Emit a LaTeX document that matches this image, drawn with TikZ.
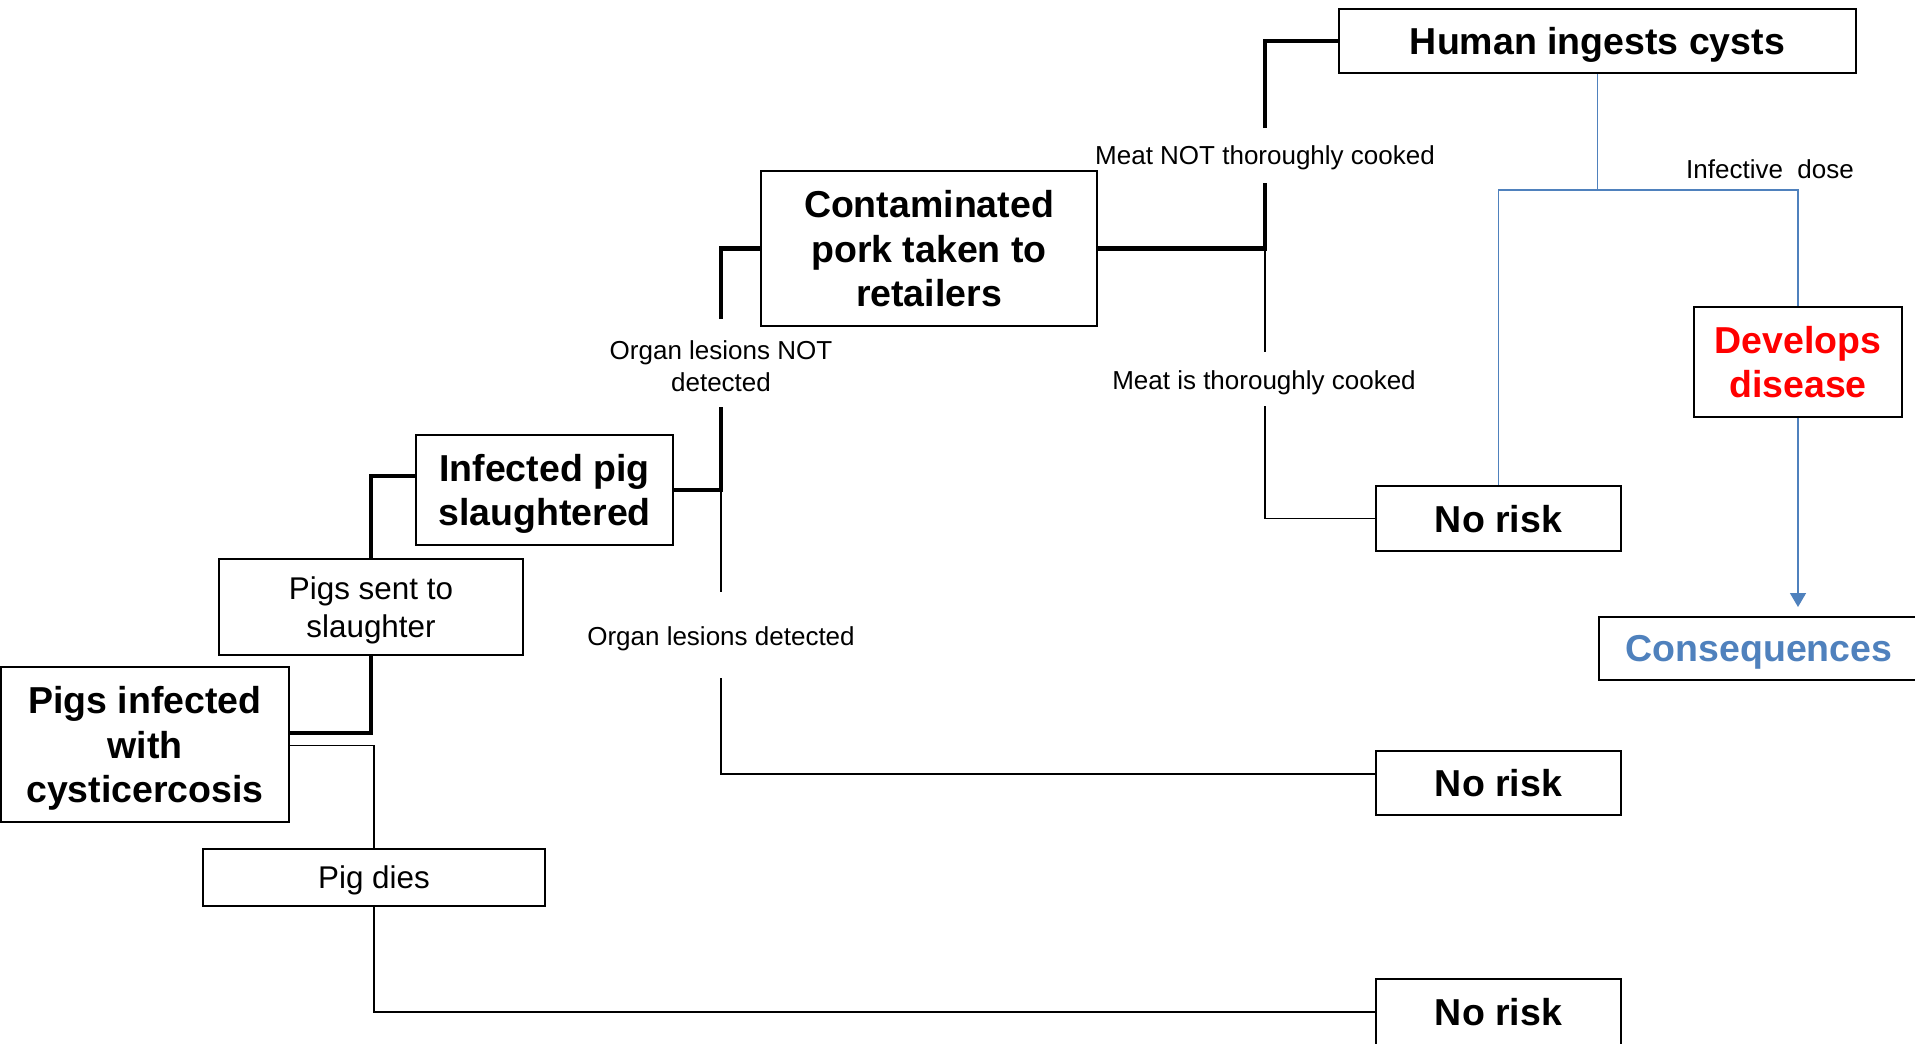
\documentclass[tikz,border=0pt]{standalone}
\usepackage{fontspec}
\setmainfont{Liberation Sans}
\usetikzlibrary{arrows.meta}
\definecolor{blueC}{RGB}{79,129,189}
\definecolor{redC}{RGB}{255,0,0}
\begin{document}
\begin{tikzpicture}[x=1pt,y=-1pt,
  box/.style={draw=black,line width=2.4pt,inner sep=0pt,align=center,text depth=0pt,font=\fontsize{37.5}{44.6}\selectfont\bfseries},
  tbox/.style={draw=black,line width=2.4pt,inner sep=0pt,align=center,text depth=0pt,font=\fontsize{31.4}{38}\selectfont},
  lbl/.style={inner sep=0pt,align=center,font=\fontsize{26}{31.7}\selectfont},
  heavy/.style={line width=4.6pt},
  light/.style={line width=1.8pt},
  blueline/.style={line width=1.6pt,draw=blueC}]
\useasboundingbox (0,0) rectangle (1915,1044);

% boxes
\node[box,minimum width=517pt,minimum height=64pt] (human) at (1597.5,41) {Human ingests cysts};
\node[box,minimum width=336pt,minimum height=155pt] (pork) at (929,248.5) {Contaminated\\pork taken to\\retailers};
\node[box,minimum width=257pt,minimum height=110pt] (sl) at (544.5,490) {Infected pig\\slaughtered};
\node[tbox,minimum width=304pt,minimum height=96pt] (sent) at (371,607) {Pigs sent to\\slaughter};
\node[box,minimum width=288pt,minimum height=155pt] (inf) at (145,744.5) {Pigs infected\\with\\cysticercosis};
\node[tbox,minimum width=342pt,minimum height=57pt] (dies) at (374,877.5) {Pig dies};
\node[box,minimum width=245pt,minimum height=65pt] (nr1) at (1498.5,518.5) {No risk};
\node[box,minimum width=245pt,minimum height=64pt] (nr2) at (1498.5,783) {No risk};
\node[box,minimum width=245pt,minimum height=66pt] (nr3) at (1498.5,1012) {No risk};
\node[box,minimum width=208pt,minimum height=110pt,text=redC] (dev) at (1798,362) {Develops\\disease};
\node[box,minimum width=320pt,minimum height=63pt,text=blueC] (cons) at (1759,648.5) {Consequences};

% labels
\node[lbl] (lNot) at (1265,157.5) {Meat NOT thoroughly\ cooked};
\node[lbl] (lIs) at (1264,382.5) {Meat is thoroughly\ cooked};
\node[lbl] (lOrgNot) at (721,366) {Organ lesions NOT\\detected};
\node[lbl] (lOrg) at (721,638.5) {Organ lesions detected};
\node[lbl] (lDose) at (1770,169) {Infective\ \ dose};

% junction and gap coordinates
\coordinate (j1) at (371,733);
\coordinate (j2) at (721,490);
\coordinate (ga1) at (721,407);
\coordinate (ga2) at (721,319);
\coordinate (gb1) at (721,592);
\coordinate (gb2) at (721,678);
\coordinate (j3) at (1265,248.5);
\coordinate (gc1) at (1265,183);
\coordinate (gc2) at (1265,128);
\coordinate (gd1) at (1265,352);
\coordinate (gd2) at (1265,406);
\coordinate (jb) at (1597.5,190);
\coordinate (aend) at (1798,607);

% heavy connectors
\draw[heavy] (inf.east |- j1) -- (j1) -- (sent.south);
\draw[heavy] (sent.north) |- ([yshift=14pt]sl.west);
\draw[heavy] (sl.east) -- (j2) -- (ga1);
\draw[heavy] (ga2) |- (pork.west);
\draw[heavy] (pork.east) -- (j3) -- (gc1);
\draw[heavy] (gc2) |- (human.west);

% light connectors
\draw[light] (j2) -- (gb1);
\draw[light] (gb2) |- ([yshift=9pt]nr2.west);
\draw[light] ([yshift=-1pt]inf.east) -| (dies.north);
\draw[light] (dies.south) |- (nr3.west);
\draw[light] (j3) -- (gd1);
\draw[light] (gd2) |- (nr1.west);

% blue connectors
\draw[blueline] (human.south) -- (jb);
\draw[blueline] (jb) -| (nr1.north);
\draw[blueline] (jb) -| (dev.north);
\draw[blueline,-{Triangle[length=14pt,width=16pt]}] (dev.south) -- (aend);
\end{tikzpicture}
\end{document}
